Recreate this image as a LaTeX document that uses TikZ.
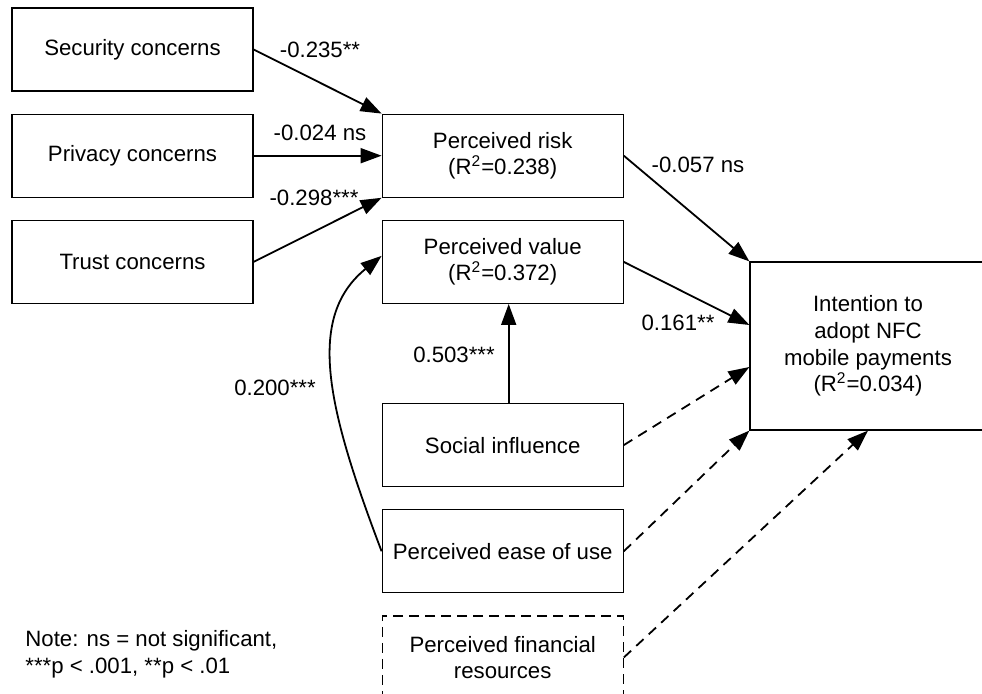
\documentclass[tikz,border=0pt]{standalone}
\usepackage{fontspec}
\setmainfont{Liberation Sans}
\usetikzlibrary{arrows.meta,positioning}

\begin{document}
\begin{tikzpicture}[
  x=0.5pt, y=-0.5pt,
  font=\fontsize{11.1}{13.3}\selectfont,
  node distance=11pt and 64pt,
  box/.style={draw=black, line width=0.6pt, minimum width=120.5pt,
    minimum height=41.5pt, align=center, inner sep=2pt},
  optbox/.style={box, dash pattern=on 5pt off 3pt},
  coef/.style={inner sep=1pt},
  arrow/.style={-{Triangle[length=10.5pt,width=7.5pt]}, line width=0.9pt},
  optarrow/.style={arrow, dash pattern=on 5pt off 3.5pt}
]
  \useasboundingbox (0,0) rectangle (982,694);

  \node[box] (security) at (132.5,49.5) {Security concerns};
  \node[box, below=of security] (privacy) {Privacy concerns};
  \node[box, below=of privacy] (trust) {Trust concerns};
  \node[box, right=of privacy] (risk) {Perceived risk\\(R\textsuperscript{2}=0.238)};
  \node[box, below=of risk] (value) {Perceived value\\(R\textsuperscript{2}=0.372)};
  \node[box, below=49.5pt of value] (social) {Social influence};
  \node[box, below=of social] (ease) {Perceived ease of use};
  \node[optbox, below=of ease] (finance) {Perceived financial\\resources};
  \node[box, minimum width=118pt, minimum height=84pt] (intent) at (868,346)
    {Intention to\\adopt NFC\\mobile payments\\(R\textsuperscript{2}=0.034)};

  % path coefficients
  \node[coef] (c-sec) at (320,50) {-0.235**};
  \node[coef] (c-priv) at (320,133) {-0.024 ns};
  \node[coef] (c-trust) at (314,198) {-0.298***};
  \node[coef] (c-risk) at (698,165) {-0.057 ns};
  \node[coef] (c-value) at (678,323) {0.161**};
  \node[coef] (c-social) at (454,355) {0.503***};
  \node[coef] (c-ease) at (275,388) {0.200***};
  \node[align=left, anchor=west, inner sep=0pt] (note) at (25,654)
    {Note: ns = not significant,\\***p < .001, **p < .01};

  \draw[arrow] (security.east) -- (risk.north west);
  \draw[arrow] (privacy) -- (risk);
  \draw[arrow] (trust.east) -- (risk.south west);
  \draw[arrow] (risk.east) -- (intent.north west);
  \draw[arrow] (value.east) -- ([yshift=10.5pt]intent.west);
  \draw[arrow] ([xshift=3pt]social.north) -- ([xshift=3pt]value.south);
  \draw[arrow] (ease.west) .. controls (328,410) and (305,318) .. ([yshift=3pt]value.west);
  \draw[optarrow] (social.east) -- ([yshift=-10.5pt]intent.west);
  \draw[optarrow] (ease.east) -- (intent.south west);
  \draw[optarrow] (finance.east) -- (intent.south);
\end{tikzpicture}
\end{document}
